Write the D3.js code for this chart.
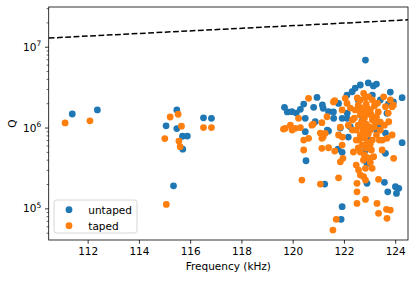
<!DOCTYPE html>
<html><head><meta charset="utf-8">
<script src="https://cdn.jsdelivr.net/npm/d3@7"></script>
<style>body{margin:0;background:#fff}svg{display:block;font-family:"DejaVu Sans",sans-serif}</style>
</head><body><svg id="c" width="416" height="281"></svg>
<script>
// ---- data ----
const untapedFreq = [111.40,112.38,115.48,115.06,115.48,115.70,115.89,115.71,116.52,116.83,115.35,
 122.84,122.64,122.95,123.15,123.27,123.81,124.27,122.12,122.32,122.44,120.95,120.43,119.68,119.97,
 120.30,120.82,121.19,121.40,121.79,121.60,121.93,120.49,120.88,120.14,119.79,123.68,122.12,122.25,
 123.73,120.49,121.40,121.77,121.93,120.52,124.27,123.62,122.90,121.25,122.90,123.58,124.01,124.14,
 124.05,123.71,121.93,121.89,122.56,123.11,122.72,123.34,123.03,122.84,122.76,123.27,123.62,121.16,
 121.59,122.13,121.86,122.17,121.35,123.42,123.93];
const untapedQ = [1.47e6,1.65e6,1.65e6,1.05e6,9.7e5,7.8e5,7.85e5,5.4e5,1.32e6,1.30e6,1.9e5,
 6.84e6,3.36e6,3.56e6,3.27e6,3.45e6,2.75e6,2.34e6,2.52e6,2.77e6,3.08e6,2.36e6,1.95e6,1.78e6,1.57e6,
 1.68e6,1.78e6,1.73e6,1.57e6,1.99e6,1.30e6,1.30e6,1.30e6,1.18e6,1.51e6,1.56e6,1.50e6,1.30e6,1.02e6,
 1.95e6,8.88e5,9.05e5,5.42e5,4.93e5,3.88e5,6.5e5,4.80e5,3.60e5,2.0e5,2.04e5,2.10e5,1.85e5,1.77e5,
 1.53e5,1.60e5,1.05e5,7.31e4,2.19e6,2.52e6,1.24e6,1.07e6,7.0e5,5.27e5,1.01e6,9.31e5,8.55e5,1.90e6,
 1.56e6,1.51e6,9.87e5,7.63e5,9.31e5,2.19e6,2.07e6];

const tapedFreq = [111.12,112.09,115.53,115.22,115.66,115.01,115.56,115.61,116.52,116.83,115.07,
 120.62,121.64,122.05,122.77,122.96,123.55,123.81,122.12,121.93,123.62,123.88,123.75,122.44,
 120.23,119.91,119.71,120.10,120.75,121.14,121.34,120.30,121.86,
 120.43,120.62,120.43,121.14,121.40,121.64,121.86,121.14,121.27,121.79,121.93,121.96,
 120.36,121.08,121.79,121.70,121.57,
 122.56,122.72,122.87,123.03,123.19,123.34,122.64,122.80,122.95,123.11,123.27,123.42,
 122.56,122.72,122.87,123.03,123.19,122.64,122.80,122.95,123.11,122.72,122.87,123.03,
 122.64,122.80,122.95,122.48,123.27,123.42,123.58,123.50,122.33,122.41,122.25,122.52,123.11,
 122.48,122.57,122.64,122.51,122.84,122.77,122.51,122.84,123.10,123.35,123.94,123.16,
 122.84,122.51,123.29,123.35,123.66,123.81,123.68,123.49,123.88,123.68,123.93,123.73,
 121.59,119.98,120.80,121.08,121.19,121.94,122.37,119.64,
 122.60,122.76,122.91,123.07,123.23,122.68,122.84,122.99,122.60,122.76,122.91,123.07,
 122.56,122.76,123.03,122.64,122.84,123.31,123.38,122.48,122.33,122.17];
const tapedQ = [1.14e6,1.21e6,1.46e6,1.35e6,1.04e6,7.3e5,6.8e5,5.8e5,1.0e6,1.0e6,1.12e5,
 2.30e6,2.15e6,2.30e6,2.65e6,2.40e6,2.40e6,2.19e6,1.99e6,1.65e6,1.81e6,1.81e6,1.18e6,1.65e6,
 1.30e6,1.07e6,9.78e5,9.78e5,1.07e6,1.15e6,1.36e6,9.95e5,1.01e6,
 7.0e5,7.35e5,5.27e5,5.53e5,5.62e5,5.12e5,3.77e5,7.35e5,8.47e5,8.08e5,6.07e5,4.16e5,
 2.24e5,2.0e5,2.39e5,7.31e4,5.39e4,
 1.90e6,1.74e6,1.95e6,1.65e6,1.85e6,1.56e6,1.43e6,1.31e6,1.47e6,1.24e6,1.35e6,1.17e6,
 1.07e6,9.87e5,1.10e6,9.31e5,1.01e6,8.08e5,7.5e5,8.31e5,7.0e5,6.07e5,5.58e5,6.25e5,
 4.98e5,4.57e5,4.20e5,7.0e5,8.08e5,9.31e5,1.07e6,7.0e5,9.31e5,1.31e6,1.74e6,2.32e6,2.19e6,
 3.43e5,2.98e5,2.58e5,2.04e5,2.24e5,2.46e5,1.60e5,3.13e5,3.13e5,2.29e5,4.16e5,4.36e5,
 1.29e5,1.15e5,1.15e5,8.67e4,9.72e4,9.53e4,7.52e4,5.27e5,8.08e5,7.35e5,1.90e6,1.51e6,
 2.07e6,9.31e5,1.10e6,8.55e5,7.63e5,7.63e5,4.98e5,9.58e5,
 1.65e6,1.51e6,1.74e6,1.43e6,1.17e6,1.17e6,9.31e5,1.02e6,7.0e5,8.7e5,6.6e5,5.27e5,
 5.58e5,3.96e5,3.7e5,2.19e6,2.34e6,2.0e6,7.0e5,9.31e5,1.24e6,1.07e6];

const limitFreq = [110.48, 117.5, 124.5];
const limitQ = [1.28e7, 1.66e7, 2.15e7];

const xTicks = [112,114,116,118,120,122,124];
const yExponents = [5,6,7];
const seriesNames = ["untaped","taped"];
const seriesColors = ["#1f77b4","#ff7f0e"];

// ---- layout ----
const L = 48.7, R = 408, T = 7, B = 240;
const svg = d3.select("#c");
const x = d3.scaleLinear().domain([110.48, 124.5]).range([L, R]);
const y = d3.scaleLog().domain([4.06e4, 3.1e7]).range([B, T]);

svg.append("defs").append("clipPath").attr("id","clip")
  .append("rect").attr("x",L).attr("y",T).attr("width",R-L).attr("height",B-T);

// limit line
const lineData = limitFreq.map((f,i)=>[f,limitQ[i]]);
svg.append("path").datum(lineData)
  .attr("clip-path","url(#clip)")
  .attr("d", d3.line().x(d=>x(d[0])).y(d=>y(d[1])))
  .attr("fill","none").attr("stroke","#000").attr("stroke-width",1.5)
  .attr("stroke-dasharray","5.8,2.5");

// scatter
const r = 3.4;
const series = [
  untapedFreq.map((f,i)=>[f,untapedQ[i]]),
  tapedFreq.map((f,i)=>[f,tapedQ[i]])
];
series.forEach((pts,k)=>{
  svg.append("g").attr("clip-path","url(#clip)").selectAll("circle").data(pts).join("circle")
    .attr("cx",d=>x(d[0])).attr("cy",d=>y(d[1])).attr("r",r)
    .attr("fill",seriesColors[k]);
});

// axes
const fs = 10.5;
const xAxis = svg.append("g").attr("transform",`translate(0,${B})`)
  .call(d3.axisBottom(x).tickValues(xTicks).tickSize(3.7).tickPadding(3.5).tickFormat(d3.format("d")));
xAxis.select(".domain").remove();
xAxis.selectAll("text").attr("font-size",fs).attr("font-family","DejaVu Sans").attr("fill","#000");
xAxis.selectAll("line").attr("stroke","#000").attr("stroke-width",0.8);

const allY = y.ticks();
const majors = yExponents.map(e=>Math.pow(10,e));
const isMajor = v => majors.some(m=>Math.abs(v-m)/m<1e-6);
const minorVals = allY.filter(v=>!isMajor(v) && v>=y.domain()[0] && v<=y.domain()[1]);
const yMinor = svg.append("g").attr("transform",`translate(${L},0)`)
  .call(d3.axisLeft(y).tickValues(minorVals).tickSize(2.1).tickFormat(""));
yMinor.select(".domain").remove();
yMinor.selectAll("line").attr("stroke","#000").attr("stroke-width",0.6);

const yMajor = svg.append("g").attr("transform",`translate(${L},0)`)
  .call(d3.axisLeft(y).tickValues(majors).tickSize(3.7).tickFormat(""));
yMajor.select(".domain").remove();
yMajor.selectAll("line").attr("stroke","#000").attr("stroke-width",0.8);
yExponents.forEach(e=>{
  const t = svg.append("text").attr("x",L-7.4).attr("y",y(Math.pow(10,e))+4)
    .attr("text-anchor","end").attr("font-size",fs).attr("fill","#000");
  t.append("tspan").text("10");
  t.append("tspan").attr("font-size",fs*0.72).attr("dy",-4.5).text(String(e));
});

// frame
svg.append("rect").attr("x",L).attr("y",T).attr("width",R-L).attr("height",B-T)
  .attr("fill","none").attr("stroke","#000").attr("stroke-width",0.8);

// labels
svg.append("text").attr("x",(L+R)/2).attr("y",269.5).attr("text-anchor","middle")
  .attr("font-size",fs).attr("fill","#000").text("Frequency (kHz)");
svg.append("text").attr("transform",`translate(16,${(T+B)/2}) rotate(-90)`)
  .attr("text-anchor","middle").attr("font-size",fs).attr("fill","#000").text("Q");

// legend
const lg = svg.append("g");
lg.append("rect").attr("x",54).attr("y",200).attr("width",83).attr("height",33)
  .attr("rx",2.5).attr("fill","#fff").attr("fill-opacity",0.8)
  .attr("stroke","#cccccc").attr("stroke-width",0.8);
seriesNames.forEach((n,i)=>{
  const cy = 209.7 + i*16;
  lg.append("circle").attr("cx",69).attr("cy",cy).attr("r",r).attr("fill",seriesColors[i]);
  lg.append("text").attr("x",88.3).attr("y",cy+3.8).attr("font-size",fs).attr("fill","#000").text(n);
});
</script></body></html>
